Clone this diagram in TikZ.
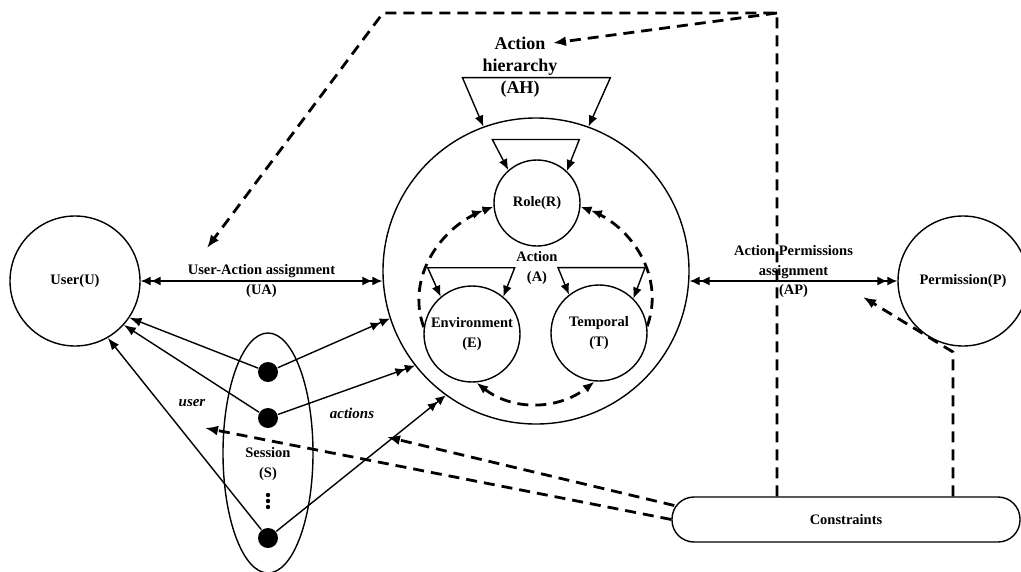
\documentclass[tikz,border=0pt]{standalone}
\usepackage{fontspec}
\setmainfont{Liberation Serif}
\usetikzlibrary{arrows.meta,shapes.geometric}

\tikzset{
  setnode/.style={draw,circle,align=center,inner sep=0pt},
  blob/.style={circle,fill=black,minimum size=20pt,inner sep=0pt},
  onehead/.style={-{Latex[length=12pt,width=9pt]}},
  twohead/.style={-{Latex[length=10pt,width=9pt] Latex[length=10pt,width=9pt]}},
  twoheads/.style={{Latex[length=10pt,width=9pt] Latex[length=10pt,width=9pt]}-{Latex[length=10pt,width=9pt] Latex[length=10pt,width=9pt]}},
  selfloop/.style={{Latex[length=11pt,width=9pt]}-{Latex[length=11pt,width=9pt]}},
  dashline/.style={line width=2.8pt,dash pattern=on 11pt off 7pt},
  dashhead/.style={dashline,-{Latex[length=13pt,width=10pt]}},
}

\begin{document}
\begin{tikzpicture}[x=1pt,y=-1pt,line width=1.4pt,
    font=\bfseries\fontsize{14.5}{20}\selectfont]
  \useasboundingbox (0,0) rectangle (1021,571);
  % sets
  \node[setnode,minimum size=130pt] (U) at (75,281) {User(U)};
  \node[setnode,minimum size=306pt] (A) at (536,271) {};
  \node[setnode,minimum size=86pt] (R) at (537,203) {Role(R)};
  \node[setnode,minimum size=96pt] (E) at (472,334) {Environment\\(E)};
  \node[setnode,minimum size=96pt] (T) at (599,333) {Temporal\\(T)};
  \node[setnode,minimum size=130pt] (P) at (963,281) {Permission(P)};
  \node[draw,rounded corners=22pt,minimum width=348pt,minimum height=45pt] (K) at (846,519.5) {Constraints};
  \node[draw,ellipse,minimum width=90pt,minimum height=240pt] (S) at (268,453) {};
  % labels
  \node[align=center] (Alab) at (537,268) {Action\\(A)};
  \node[align=center,font=\bfseries\fontsize{18}{22}\selectfont] (AH) at (520,67) {Action\\hierarchy\\(AH)};
  \node[align=center] (Slab) at (268,464) {Session\\(S)};
  \node[font=\bfseries\itshape\fontsize{15}{18}\selectfont] (usr) at (192,403) {user};
  \node[font=\bfseries\itshape\fontsize{15}{18}\selectfont] (act) at (352,413) {actions};
  % sessions
  \node[blob] (s1) at (268,372) {};
  \node[blob] (s2) at (268,418) {};
  \node[blob] (s3) at (268,538) {};
  \foreach \y in {495,501,507}
    \fill (268,\y) circle (2.2pt);
  % free ends
  \coordinate (tl) at (383,13);
  \coordinate (tr) at (777,13);
  \coordinate (utip) at (207,248);
  \coordinate (ahtip) at (553,43);
  \coordinate (pk) at (953,352);
  \coordinate (ptip) at (863,297);
  \coordinate (atip) at (387,437);
  \coordinate (utip2) at (205,428);

  % assignments
  \draw[twoheads] (U.east) -- (U.east -| A.west)
    node[midway,align=center] (UA) {User-Action assignment\\(UA)};
  \draw[twoheads] (P.west -| A.east) -- (P.west)
    node[midway,yshift=9pt,align=center,font=\bfseries\fontsize{14.5}{19.5}\selectfont] (AP) {Action Permissions\\assignment\\(AP)};

  % hierarchies
  \draw[selfloop] (A.110) -- ++(-21,-49) -- ++(148,0) -- (A.70);
  \draw[selfloop] (R.131) -- ++(-16,-30.5) -- ++(87,0) -- (R.47);
  \draw[selfloop] (E.130) -- ++(-13,-29) -- ++(87,0) -- (E.50);
  \draw[selfloop] (T.128) -- ++(-11,-27) -- ++(87,0) -- (T.45);

  % inside the action set
  \draw[dashline,-{Latex[length=11pt,width=9pt] Latex[length=11pt,width=9pt]}] (E.172) to[out=110,in=200] (R.185);
  \draw[dashline,-{Latex[length=11pt,width=9pt] Latex[length=11pt,width=9pt]}] (T.8) to[out=70,in=-20] (R.-5);
  \draw[dashline,{Latex[length=12pt,width=9pt]}-{Latex[length=12pt,width=9pt]}] (E.-85) to[out=-38,in=-142] (T.-95);

  % session links
  \draw[onehead] (s1) -- (U.-34);
  \draw[onehead] (s2) -- (U.-42);
  \draw[onehead] (s3) -- (U.-60);
  \draw[twohead] (s1) -- (A.198);
  \draw[twohead] (s2) -- (A.218);
  \draw[twohead] (s3) -- (A.234);

  % constraints
  \draw[dashhead] (K.north -| tr) -- (tr) -- (tl) -- (utip);
  \draw[dashhead] (tr) -- (ahtip);
  \draw[dashhead] (K.north -| pk) -- (pk) -- (ptip);
  \draw[dashhead] ([shift={(3pt,14pt)}]K.west) -- (atip);
  \draw[dashhead] (K.west) -- (utip2);
\end{tikzpicture}
\end{document}
